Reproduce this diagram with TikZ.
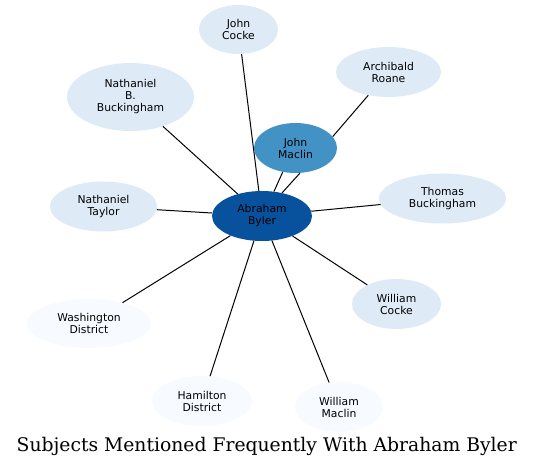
\documentclass[tikz,border=0pt]{standalone}
\usepackage{fontspec}
\setmainfont{DejaVu Sans}
\newfontfamily\titlefont{DejaVu Serif}
\usetikzlibrary{shapes.geometric}
\definecolor{blA}{HTML}{DEEBF7}
\definecolor{blB}{HTML}{F7FBFF}
\definecolor{blC}{HTML}{4292C6}
\definecolor{blD}{HTML}{08519C}
\tikzset{
  ent/.style={ellipse, inner sep=0pt, align=center, text=black,
    font=\fontsize{10.8}{12}\selectfont},
  lite/.style={ent, fill=blA},
  pale/.style={ent, fill=blB},
  mid/.style={ent, fill=blC},
  dark/.style={ent, fill=blD},
  link/.style={draw=black, line width=1pt}
}
\begin{document}
\begin{tikzpicture}[x=1pt,y=-1pt]
\useasboundingbox (0,0) rectangle (533,467);
\node[lite, minimum width=79pt, minimum height=49pt] (jc) at (238.5,29.5) {John\\Cocke};
\node[lite, minimum width=105pt, minimum height=50pt] (ar) at (388.5,72) {Archibald\\Roane};
\node[lite, minimum width=127pt, minimum height=68pt] (nbb) at (130.5,97) {Nathaniel\\B.\\Buckingham};
\node[mid, minimum width=83pt, minimum height=50pt] (jm) at (295.5,148) {John\\Maclin};
\node[lite, minimum width=127pt, minimum height=50pt] (tb) at (442.5,198.5) {Thomas\\Buckingham};
\node[lite, minimum width=107pt, minimum height=50pt] (nt) at (103.5,206.5) {Nathaniel\\Taylor};
\node[dark, minimum width=100pt, minimum height=50pt] (ab) at (262,216) {Abraham\\Byler};
\node[lite, minimum width=89pt, minimum height=50pt] (wc) at (396.5,304) {William\\Cocke};
\node[pale, minimum width=124pt, minimum height=49pt] (wd) at (89,323.5) {Washington\\District};
\node[pale, minimum width=100pt, minimum height=50pt] (hd) at (202,401) {Hamilton\\District};
\node[pale, minimum width=88pt, minimum height=50pt] (wm) at (339,407) {William\\Maclin};
\draw[link] (ab) -- (jc);
\draw[link] (ab) -- (nbb);
\draw[link] (ab) -- (nt);
\draw[link] (ab) -- (wd);
\draw[link] (ab) -- (hd);
\draw[link] (ab) -- (wm);
\draw[link] (ab) -- (wc);
\draw[link] (ab) -- (tb);
\draw[link] (jm.17) -- (ar.229.5);
\draw[link] (ab.64) -- (jm.242.5);
\draw[link] (ab.49) -- (jm.280);
\node[inner sep=0pt, anchor=base] (title) at (266.7,451) {\resizebox{500pt}{!}{\titlefont Subjects Mentioned Frequently With Abraham Byler}};
\end{tikzpicture}
\end{document}
